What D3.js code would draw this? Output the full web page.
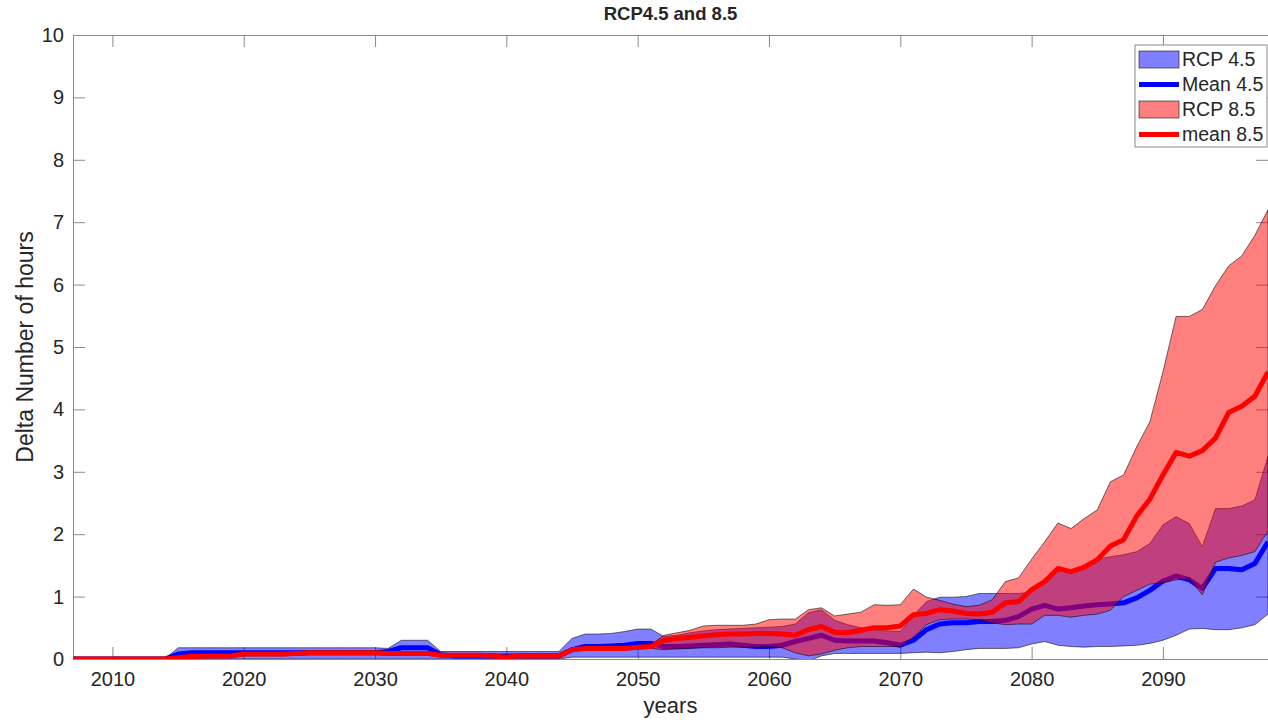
<!DOCTYPE html>
<html>
<head>
<meta charset="utf-8">
<script src="https://cdn.jsdelivr.net/npm/d3@7"></script>
<style>
    body { margin: 0; background: #fff; }
    svg text { font-family: "Liberation Sans", Arial, Helvetica, sans-serif; fill: #262626; }
    .axis path, .axis line { stroke: #8a8a8a; stroke-width: 1; }
    .axis text { font-size: 20px; }
</style>
</head>
<body>
<svg width="1268" height="720"></svg>
<script>
// ---- data, one value per year 2007..2098 ----
var firstYear = 2007;
var lastYear = 2098;

var rcp45Upper = [
    0, 0, 0, 0, 0, 0, 0, 0, 0.18, 0.18,
    0.18, 0.18, 0.18, 0.18, 0.18, 0.18, 0.18, 0.18, 0.18, 0.18,
    0.18, 0.18, 0.18, 0.18, 0.17, 0.3, 0.3, 0.3, 0.12, 0.12,
    0.12, 0.12, 0.12, 0.12, 0.12, 0.12, 0.12, 0.12, 0.33, 0.4,
    0.4, 0.41, 0.44, 0.48, 0.48, 0.36, 0.38, 0.42, 0.45, 0.47,
    0.48, 0.49, 0.5, 0.51, 0.52, 0.56, 0.74, 0.79, 0.62, 0.55,
    0.5, 0.47, 0.45, 0.44, 0.7, 0.92, 0.99, 0.99, 1.0, 1.05,
    1.05, 1.05, 1.05, 1.07, 1.28, 1.45, 1.42, 1.5, 1.6, 1.64,
    1.67, 1.72, 1.85, 2.15, 2.28, 2.17, 1.8, 2.41, 2.41, 2.45,
    2.55, 3.25
];
var rcp45Mean = [
    0, 0, 0, 0, 0, 0, 0, 0, 0.08, 0.1,
    0.1, 0.1, 0.1, 0.1, 0.1, 0.1, 0.1, 0.1, 0.1, 0.1,
    0.1, 0.1, 0.1, 0.1, 0.12, 0.18, 0.18, 0.18, 0.07, 0.05,
    0.05, 0.05, 0.05, 0.05, 0.05, 0.05, 0.05, 0.05, 0.15, 0.2,
    0.2, 0.21, 0.22, 0.25, 0.25, 0.2, 0.2, 0.21, 0.22, 0.23,
    0.24, 0.22, 0.2, 0.2, 0.22, 0.28, 0.33, 0.38, 0.3, 0.29,
    0.29, 0.29, 0.26, 0.22, 0.3, 0.47, 0.56, 0.58, 0.58, 0.6,
    0.6, 0.62, 0.68, 0.8, 0.86, 0.8, 0.82, 0.85, 0.87, 0.88,
    0.9, 0.98, 1.1, 1.25, 1.33, 1.27, 1.13, 1.45, 1.45, 1.43,
    1.53, 1.88
];
var rcp45Lower = [
    0, 0, 0, 0, 0, 0, 0, 0, 0, 0,
    0, 0, 0, 0, 0, 0, 0, 0, 0, 0,
    0, 0, 0, 0, 0, 0, 0, 0, 0, 0,
    0, 0, 0, 0, 0, 0, 0, 0, 0.03, 0.03,
    0.03, 0.03, 0.03, 0.03, 0.03, 0.03, 0.03, 0.03, 0.03, 0.03,
    0.03, 0.03, 0.03, 0.03, 0.03, 0.0, -0.03, 0.05, 0.09, 0.09,
    0.09, 0.09, 0.09, 0.09, 0.1, 0.11, 0.1, 0.12, 0.15, 0.17,
    0.17, 0.17, 0.18, 0.24, 0.28, 0.22, 0.2, 0.19, 0.2, 0.2,
    0.21, 0.22, 0.25, 0.3, 0.38, 0.48, 0.49, 0.47, 0.47, 0.5,
    0.55, 0.72
];
var rcp85Upper = [
    0.03, 0.03, 0.03, 0.03, 0.03, 0.03, 0.03, 0.03, 0.05, 0.07,
    0.08, 0.08, 0.08, 0.11, 0.11, 0.11, 0.11, 0.12, 0.13, 0.13,
    0.13, 0.13, 0.13, 0.13, 0.12, 0.12, 0.12, 0.12, 0.09, 0.09,
    0.09, 0.09, 0.08, 0.06, 0.08, 0.08, 0.08, 0.08, 0.18, 0.2,
    0.2, 0.2, 0.2, 0.22, 0.23, 0.38, 0.42, 0.46, 0.53, 0.54,
    0.54, 0.54, 0.56, 0.63, 0.64, 0.64, 0.79, 0.82, 0.69, 0.72,
    0.75, 0.87, 0.86, 0.87, 1.12, 0.99, 0.94, 0.88, 0.84, 0.86,
    0.95, 1.24, 1.3, 1.6, 1.88, 2.18, 2.09, 2.25, 2.39, 2.84,
    2.95, 3.4, 3.8, 4.6, 5.49, 5.49, 5.6, 5.98, 6.3, 6.46,
    6.79, 7.2
];
var rcp85Mean = [
    0, 0, 0, 0, 0, 0, 0, 0, 0.02, 0.04,
    0.05, 0.05, 0.05, 0.08, 0.08, 0.08, 0.08, 0.09, 0.1, 0.1,
    0.1, 0.1, 0.1, 0.1, 0.09, 0.09, 0.09, 0.09, 0.06, 0.06,
    0.06, 0.06, 0.05, 0.03, 0.05, 0.05, 0.05, 0.05, 0.15, 0.17,
    0.17, 0.17, 0.17, 0.19, 0.2, 0.3, 0.33, 0.35, 0.37, 0.39,
    0.4, 0.4, 0.41, 0.41, 0.4, 0.38, 0.47, 0.52, 0.43, 0.42,
    0.46, 0.5, 0.5, 0.53, 0.71, 0.73, 0.79, 0.77, 0.73, 0.72,
    0.75, 0.9, 0.92, 1.11, 1.24, 1.45, 1.4, 1.47, 1.59, 1.81,
    1.91, 2.29, 2.56, 2.95, 3.31, 3.25, 3.34, 3.54, 3.95, 4.05,
    4.21, 4.6
];
var rcp85Lower = [
    0, 0, 0, 0, 0, 0, 0, 0, 0, 0,
    0.02, 0.02, 0.02, 0.05, 0.05, 0.05, 0.05, 0.06, 0.07, 0.07,
    0.07, 0.07, 0.07, 0.07, 0.06, 0.06, 0.06, 0.06, 0.03, 0.03,
    0.03, 0.03, 0.02, 0.0, 0.02, 0.02, 0.02, 0.02, 0.12, 0.14,
    0.14, 0.14, 0.14, 0.16, 0.17, 0.15, 0.16, 0.17, 0.18, 0.18,
    0.19, 0.19, 0.19, 0.2, 0.18, 0.1, 0.05, 0.08, 0.14, 0.18,
    0.2, 0.2, 0.2, 0.2, 0.35, 0.55, 0.63, 0.64, 0.64, 0.63,
    0.58, 0.55, 0.56, 0.56, 0.7, 0.7, 0.67, 0.7, 0.72, 0.78,
    1.0, 1.1, 1.2, 1.22, 1.27, 1.28, 1.03, 1.55, 1.62, 1.66,
    1.72, 2.05
];

var xTicks = [2010, 2020, 2030, 2040, 2050, 2060, 2070, 2080, 2090];
var yTicks = [0, 1, 2, 3, 4, 5, 6, 7, 8, 9, 10];
var legendLabels = ['RCP 4.5', 'Mean 4.5', 'RCP 8.5', 'mean 8.5'];

var years = d3.range(firstYear, lastYear + 1);

function makeSeries(lower, mean, upper) {
    return years.map(function(y, i) {
        return {year: y, lower: lower[i], mean: mean[i], upper: upper[i]};
    });
}
var rcp45 = makeSeries(rcp45Lower, rcp45Mean, rcp45Upper);
var rcp85 = makeSeries(rcp85Lower, rcp85Mean, rcp85Upper);

// ---- layout ----
var svg = d3.select('svg');
var svgWidth = +svg.attr('width');
var svgHeight = +svg.attr('height');
var padding = {t: 35, r: 0, b: 61, l: 73};
var chartWidth = svgWidth - padding.l - padding.r;
var chartHeight = svgHeight - padding.t - padding.b;

var chartG = svg.append('g')
    .attr('transform', 'translate(' + [padding.l, padding.t] + ')');

var xScale = d3.scaleLinear().domain([firstYear, lastYear]).range([0, chartWidth]);
var yScale = d3.scaleLinear().domain([0, 10]).range([chartHeight, 0]);

// axes (matlab style: inward ticks, box on)
chartG.append('g')
    .attr('class', 'axis')
    .attr('transform', 'translate(0,' + chartHeight + ')')
    .call(d3.axisBottom(xScale).tickValues(xTicks).tickFormat(d3.format('d'))
        .tickSizeInner(-12).tickSizeOuter(0).tickPadding(13));
chartG.append('g')
    .attr('class', 'axis')
    .call(d3.axisTop(xScale).tickValues(xTicks).tickFormat('')
        .tickSizeInner(-12).tickSizeOuter(0));
chartG.append('g')
    .attr('class', 'axis')
    .call(d3.axisLeft(yScale).tickValues(yTicks).tickFormat(d3.format('d'))
        .tickSizeInner(-12).tickSizeOuter(0).tickPadding(9));
chartG.append('g')
    .attr('class', 'axis')
    .attr('transform', 'translate(' + chartWidth + ',0)')
    .call(d3.axisRight(yScale).tickValues(yTicks).tickFormat('')
        .tickSizeInner(-12).tickSizeOuter(0));

// clip the data to the axes box
svg.append('defs').append('clipPath')
    .attr('id', 'plot-clip')
    .append('rect')
    .attr('width', chartWidth)
    .attr('height', chartHeight);

var dataG = chartG.append('g').attr('clip-path', 'url(#plot-clip)');

var band = d3.area()
    .x(function(d) { return xScale(d.year); })
    .y0(function(d) { return yScale(d.lower); })
    .y1(function(d) { return yScale(d.upper); });
var meanLine = d3.line()
    .x(function(d) { return xScale(d.year); })
    .y(function(d) { return yScale(d.mean); });

var series = [
    {data: rcp45, color: 'rgb(0,0,255)'},
    {data: rcp85, color: 'rgb(255,0,0)'}
];

series.forEach(function(s) {
    dataG.append('path')
        .datum(s.data)
        .attr('d', band)
        .attr('fill', s.color)
        .attr('fill-opacity', 0.5)
        .attr('stroke', '#000')
        .attr('stroke-opacity', 0.55)
        .attr('stroke-width', 1)
        .attr('stroke-linejoin', 'round');
    dataG.append('path')
        .datum(s.data)
        .attr('d', meanLine)
        .attr('fill', 'none')
        .attr('stroke', s.color)
        .attr('stroke-width', 5)
        .attr('stroke-linejoin', 'round');
});

// title + axis labels
svg.append('text')
    .attr('x', padding.l + chartWidth / 2)
    .attr('y', 20)
    .attr('text-anchor', 'middle')
    .style('font-size', '18.5px')
    .style('font-weight', 'bold')
    .text('RCP4.5 and 8.5');

svg.append('text')
    .attr('x', padding.l + chartWidth / 2)
    .attr('y', 713)
    .attr('text-anchor', 'middle')
    .style('font-size', '22px')
    .text('years');

svg.append('text')
    .attr('transform', 'translate(' + [33, padding.t + chartHeight / 2] + ')rotate(-90)')
    .attr('text-anchor', 'middle')
    .style('font-size', '23px')
    .text('Delta Number of hours');

// legend
var legendG = svg.append('g').attr('transform', 'translate(1135,45)');
legendG.append('rect')
    .attr('width', 132)
    .attr('height', 102)
    .attr('fill', '#fff')
    .attr('stroke', '#8a8a8a');

var legendItems = [
    {label: legendLabels[0], type: 'patch', color: 'rgb(0,0,255)'},
    {label: legendLabels[1], type: 'line', color: 'rgb(0,0,255)'},
    {label: legendLabels[2], type: 'patch', color: 'rgb(255,0,0)'},
    {label: legendLabels[3], type: 'line', color: 'rgb(255,0,0)'}
];
legendItems.forEach(function(item, i) {
    var cy = 14.5 + i * 25;
    if (item.type === 'patch') {
        legendG.append('rect')
            .attr('x', 4).attr('y', cy - 8.5)
            .attr('width', 40).attr('height', 17)
            .attr('fill', item.color).attr('fill-opacity', 0.5)
            .attr('stroke', '#000').attr('stroke-opacity', 0.55);
    } else {
        legendG.append('line')
            .attr('x1', 4).attr('x2', 44)
            .attr('y1', cy).attr('y2', cy)
            .attr('stroke', item.color).attr('stroke-width', 5);
    }
    legendG.append('text')
        .attr('x', 47).attr('y', cy)
        .attr('dy', '0.35em')
        .style('font-size', '19.5px')
        .text(item.label);
});
</script>
</body>
</html>
